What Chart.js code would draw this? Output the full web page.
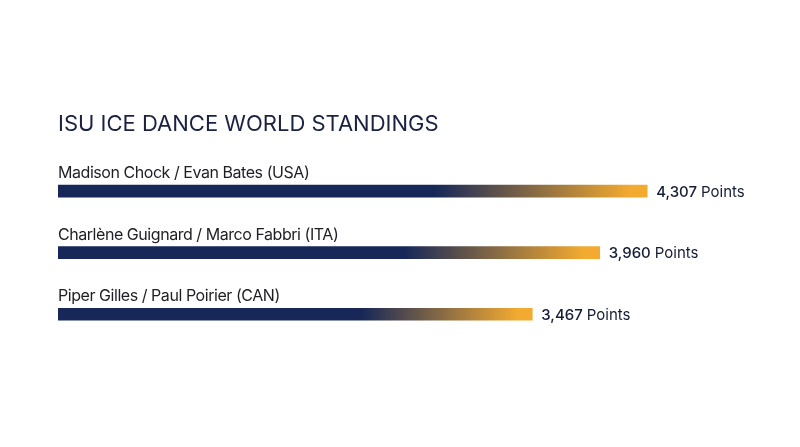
<!DOCTYPE html>
<html>
<head>
<meta charset="utf-8">
<script src="https://cdn.jsdelivr.net/npm/chart.js@4.4.1/dist/chart.umd.min.js"></script>
<style>
  html, body { margin: 0; padding: 0; background: #fff; }
  #wrap { width: 800px; height: 447px; }
</style>
</head>
<body>
<div id="wrap"><canvas id="standings"></canvas></div>
<script>
// data
const teams = [
  "Madison Chock / Evan Bates (USA)",
  "Charlène Guignard / Marco Fabbri (ITA)",
  "Piper Gilles / Paul Poirier (CAN)"
];
const points = [4307, 3960, 3467];

const NAVY = "#172858";
const GOLD = "#f3aa30";
const FONT = "Inter, 'Noto Sans', sans-serif";

// per-bar gradient, from the zero of the scale to the end of the bar
function barFill(ctx) {
  const chart = ctx.chart;
  const x = chart.scales.x;
  if (!chart.chartArea || !x) return NAVY;
  const x0 = x.getPixelForValue(0);
  const x1 = x.getPixelForValue(ctx.raw);
  const g = chart.ctx.createLinearGradient(x0, 0, x1, 0);
  g.addColorStop(0, NAVY);
  g.addColorStop(0.64, NAVY);
  g.addColorStop(0.97, GOLD);
  g.addColorStop(1, GOLD);
  return g;
}

// team names above bars, point totals after them
const barLabels = {
  id: "barLabels",
  afterDatasetsDraw(chart) {
    const c = chart.ctx;
    const meta = chart.getDatasetMeta(0);
    c.save();
    meta.data.forEach((bar, i) => {
      const top = bar.y - bar.height / 2;
      c.textBaseline = "alphabetic";
      c.textAlign = "left";
      c.fillStyle = "#1e1e24";
      c.font = "400 16px " + FONT;
      c.letterSpacing = "-0.45px";
      c.fillText(teams[i], bar.base, top - 7);
      c.letterSpacing = "0px";

      c.textBaseline = "middle";
      c.fillStyle = "#161b36";
      c.font = "500 15px " + FONT;
      const num = points[i].toLocaleString("en-US");
      const xs = bar.x + 9;
      c.fillText(num, xs, bar.y + 1);
      const w = c.measureText(num + " ").width;
      c.font = "400 15px " + FONT;
      c.fillText("Points", xs + w, bar.y + 1);
    });
    c.restore();
  }
};

new Chart(document.getElementById("standings"), {
  type: "bar",
  data: {
    labels: teams,
    datasets: [{
      data: points,
      backgroundColor: barFill,
      borderWidth: 0,
      barThickness: 12
    }]
  },
  options: {
    indexAxis: "y",
    responsive: true,
    maintainAspectRatio: false,
    animation: false,
    layout: { padding: { left: 58, right: 58, top: 111, bottom: 102 } },
    scales: {
      x: { display: false, min: 0, max: 5000 },
      y: { display: false }
    },
    plugins: {
      legend: { display: false },
      tooltip: { enabled: false },
      title: {
        display: true,
        text: "ISU ICE DANCE WORLD STANDINGS",
        align: "start",
        color: "#1b2140",
        font: { family: FONT, size: 22, weight: "400", lineHeight: 1.2 },
        padding: { top: 0, bottom: 23 }
      }
    }
  },
  plugins: [barLabels]
});
</script>
</body>
</html>
